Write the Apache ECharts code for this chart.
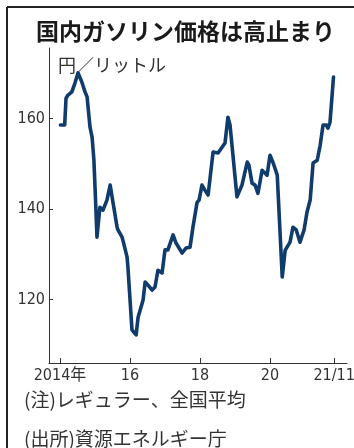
<!DOCTYPE html>
<html>
<head>
<meta charset="utf-8">
<script src="https://cdn.jsdelivr.net/npm/echarts@6/dist/echarts.min.js"></script>
<style>
  html, body { margin: 0; padding: 0; background: #fff; }
  #chart { width: 354px; height: 448px; }
</style>
</head>
<body>
<div id="chart"></div>
<script>
// Weekly survey readings, regular gasoline, national average (yen per litre)
const dates = [
  '2014-01-06','2014-01-27','2014-02-20','2014-03-03','2014-03-24','2014-05-03','2014-06-04','2014-07-07',
  '2014-08-16','2014-09-19','2014-10-10','2014-11-10','2014-12-01','2014-12-20','2015-01-05','2015-01-22',
  '2015-02-22','2015-03-24','2015-05-04','2015-06-07','2015-06-25','2015-08-19','2015-08-28','2015-10-10',
  '2015-10-19','2015-12-01','2015-12-10','2016-01-22','2016-03-04','2016-03-25','2016-05-16','2016-06-07',
  '2016-07-07','2016-08-19','2016-09-19','2016-10-19','2016-12-01','2017-01-01','2017-02-01','2017-03-25',
  '2017-04-25','2017-06-28','2017-08-07','2017-09-19','2017-10-19','2017-12-01','2017-12-22','2018-01-22',
  '2018-02-22','2018-03-25','2018-05-16','2018-07-07','2018-07-28','2018-09-19','2018-10-19','2018-11-10',
  '2019-01-22','2019-03-13','2019-05-07','2019-05-25','2019-06-28','2019-07-28','2019-08-28','2019-10-10',
  '2019-12-01','2020-01-01','2020-02-04','2020-03-16','2020-05-07','2020-06-07','2020-07-07','2020-07-28',
  '2020-08-28','2020-10-01','2020-11-10','2020-12-22','2021-01-22','2021-02-25','2021-03-25','2021-05-07',
  '2021-06-07','2021-07-07','2021-08-10','2021-08-28','2021-09-19','2021-10-25'
];
const prices = [
  158.6,158.3,158.6,164.5,165.2,165.9,167.8,170.1,
  168.1,165.9,164.8,158.1,155.9,151.0,143.0,133.8,
  140.4,139.8,142.0,145.3,145.3,136.0,135.4,133.8,
  133.1,129.4,127.2,113.3,112.2,116.1,119.9,123.9,
  123.2,122.1,122.8,126.5,125.9,131.0,131.0,134.3,
  132.5,130.3,131.4,131.6,136.0,141.5,142.0,145.3,
  144.2,143.1,152.6,152.4,152.4,154.6,160.3,158.6,
  142.7,145.3,150.4,149.7,145.7,145.3,143.5,148.6,
  147.5,151.9,150.2,147.5,125.0,130.9,132.0,132.7,
  136.0,135.4,132.7,135.4,139.3,142.0,150.2,150.8,
  154.1,158.6,158.6,157.9,159.2,169.2
];

// Axis ticks: positions on the time axis and their labels
const tickDates = ['2014-01-01','2016-01-01','2018-01-01','2020-01-01','2021-11-01'];
const tickLabels = ['2014年','16','18','20','21/11'];
const yTicks = [120, 140, 160];

// Texts
const titleText = '国内ガソリン価格は高止まり';
const unitText = '円／リットル';
const noteText = '(注)レギュラー、全国平均';
const sourceText = '(出所)資源エネルギー庁';

// Months elapsed since January 2014, as a fractional number
function monthIndex(s) {
  const [y, m, d] = s.split('-').map(Number);
  return (y - 2014) * 12 + (m - 1) + (d - 1) / 31;
}

const seriesData = dates.map((d, i) => [monthIndex(d), prices[i]]);
const tickPos = tickDates.map(monthIndex);
const labelFor = {};
tickPos.forEach((p, i) => { labelFor[p.toFixed(4)] = tickLabels[i]; });

const numFont = "'Liberation Sans Narrow', 'DejaVu Sans Condensed', 'Noto Sans CJK JP', sans-serif";
const cjkFont = "'Noto Sans CJK JP', sans-serif";

const chart = echarts.init(document.getElementById('chart'), null, { renderer: 'canvas' });
chart.setOption({
  animation: false,
  backgroundColor: '#fff',
  title: {
    text: titleText,
    left: 31,
    top: 15,
    textStyle: { fontFamily: cjkFont, fontWeight: 'bold', fontSize: 23, color: '#1a1a1a' }
  },
  grid: { left: 49, right: 7, top: 48, bottom: 85, containLabel: false, outerBoundsMode: 'none' },
  xAxis: {
    type: 'value',
    min: -3.77,
    max: 98.4,
    axisLine: { show: true, onZero: false, lineStyle: { color: '#333', width: 1 } },
    axisTick: { show: true, inside: true, length: 5, customValues: tickPos, lineStyle: { color: '#333' } },
    axisLabel: {
      customValues: tickPos,
      margin: 5,
      hideOverlap: false,
      fontFamily: numFont,
      fontSize: 16,
      color: '#333',
      formatter: v => labelFor[Number(v).toFixed(4)] || ''
    },
    splitLine: { show: false }
  },
  yAxis: {
    type: 'value',
    min: 106,
    max: 175.6,
    axisLine: { show: true, onZero: false, lineStyle: { color: '#333', width: 1 } },
    axisTick: { show: true, inside: true, length: 4, customValues: yTicks, lineStyle: { color: '#333' } },
    axisLabel: {
      customValues: yTicks,
      margin: 4,
      fontFamily: numFont,
      fontSize: 16,
      color: '#333'
    },
    splitLine: { show: false }
  },
  series: [{
    type: 'line',
    data: seriesData,
    showSymbol: false,
    symbol: 'none',
    lineStyle: { color: '#0f3b6d', width: 3.6, cap: 'round', join: 'round' }
  }],
  graphic: [
    { type: 'line', shape: { x1: 7, y1: 7, x2: 7, y2: 448 }, style: { stroke: '#222', lineWidth: 2 } },
    { type: 'line', shape: { x1: 7, y1: 7, x2: 354, y2: 7 }, style: { stroke: '#222', lineWidth: 2 } },
    { type: 'text', style: { text: unitText, x: 58, y: 65, fontFamily: cjkFont, fontSize: 18, fill: '#333', verticalAlign: 'middle' } },
    { type: 'text', style: { text: noteText, x: 24, y: 400, fontFamily: cjkFont, fontSize: 19, fill: '#333', verticalAlign: 'middle' } },
    { type: 'text', style: { text: sourceText, x: 24, y: 439, fontFamily: cjkFont, fontSize: 19, fill: '#333', verticalAlign: 'middle' } }
  ]
});
</script>
</body>
</html>
